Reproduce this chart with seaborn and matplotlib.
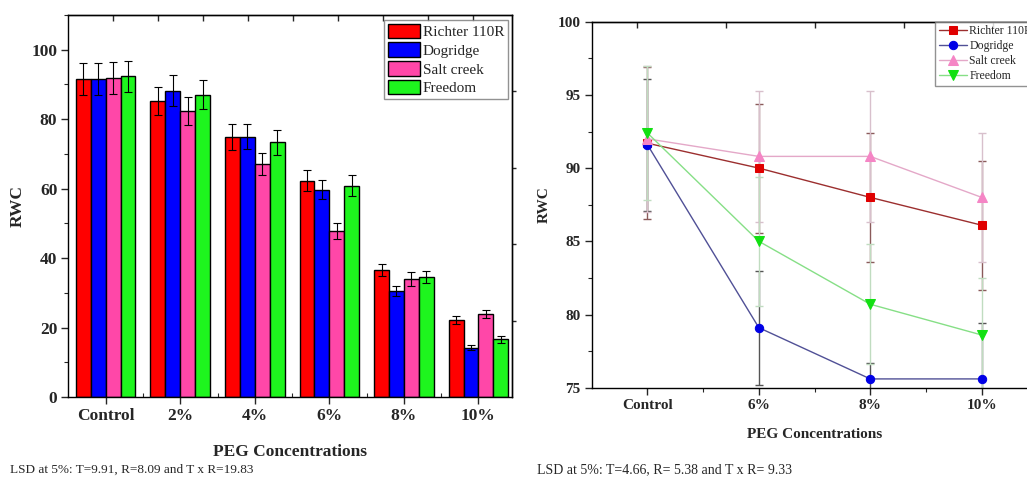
import numpy as np
import pandas as pd
import matplotlib
matplotlib.use("Agg")
import matplotlib.pyplot as plt
import seaborn as sns
from matplotlib.ticker import MultipleLocator, FixedLocator

# ---- data: bar chart (left) ----
bar_conc = ["Control", "2%", "4%", "6%", "8%", "10%"]
cultivars = ["Richter 110R", "Dogridge", "Salt creek", "Freedom"]
bar_richter = [91.6, 85.3, 74.9, 62.3, 36.6, 22.1]
bar_dogridge = [91.6, 88.2, 75.0, 59.7, 30.6, 14.2]
bar_saltcreek = [91.8, 82.4, 67.0, 47.9, 34.0, 23.9]
bar_freedom = [92.3, 87.0, 73.3, 60.9, 34.6, 16.6]
err_richter = [4.5, 4.1, 3.7, 3.0, 1.8, 1.1]
err_dogridge = [4.5, 4.4, 3.7, 2.8, 1.4, 0.7]
err_saltcreek = [4.6, 4.1, 3.2, 2.3, 1.9, 1.2]
err_freedom = [4.5, 4.2, 3.6, 3.0, 1.8, 1.1]

# ---- data: line chart (right) ----
line_conc = ["Control", "6%", "8%", "10%"]
ln_richter = [91.7, 90.0, 88.0, 86.1]
ln_dogridge = [91.6, 79.1, 75.6, 75.6]
ln_saltcreek = [92.0, 90.8, 90.8, 88.0]
ln_freedom = [92.4, 85.0, 80.7, 78.6]
lerr_richter = [5.2, 4.4, 4.4, 4.4]
lerr_dogridge = [4.5, 3.9, 1.1, 3.8]
lerr_saltcreek = [5.0, 4.5, 4.5, 4.4]
lerr_freedom = [4.6, 4.4, 4.1, 3.9]

lsd_left = "LSD at 5%: T=9.91, R=8.09 and T x R=19.83"
lsd_right = "LSD at 5%: T=4.66, R= 5.38 and T x R= 9.33"

bar_colors = ["#ff0000", "#0000ff", "#ff47a8", "#1ef51e"]
mk_colors = ["#e00000", "#0000e6", "#f585c5", "#12e012"]
ln_colors = ["#9c2f2f", "#505096", "#e4a8c8", "#86df86"]
err_colors = ["#8a5a5a", "#555555", "#d8c0cc", "#c0dcc0"]
markers = ["s", "o", "^", "v"]

sns.set_theme(style="ticks")
plt.rcParams["font.family"] = ["Liberation Serif", "DejaVu Serif"]
plt.rcParams["axes.linewidth"] = 1.0

fig = plt.figure(figsize=(10.27, 4.79), dpi=100)
W, H = 1027, 479

# =======================
# LEFT: grouped bars
# =======================
ax1 = fig.add_axes([68.4 / W, 1 - 397 / H, (512 - 68.4) / W, (397 - 15) / H])

vals = [bar_richter, bar_dogridge, bar_saltcreek, bar_freedom]
errs = [err_richter, err_dogridge, err_saltcreek, err_freedom]
df_bar = pd.DataFrame({
    "PEG": bar_conc * 4,
    "RWC": sum(vals, []),
    "Cultivar": np.repeat(cultivars, len(bar_conc)),
})
sns.barplot(data=df_bar, x="PEG", y="RWC", hue="Cultivar", hue_order=cultivars,
            order=bar_conc, palette=bar_colors, saturation=1, errorbar=None,
            edgecolor="black", linewidth=1.0, width=0.8, ax=ax1)

for cont, e in zip(ax1.containers, errs):
    xs = [b.get_x() + b.get_width() / 2 for b in cont]
    hs = [b.get_height() for b in cont]
    ax1.errorbar(xs, hs, yerr=e, fmt="none", ecolor="black",
                 elinewidth=0.8, capsize=3, capthick=0.8)

ax1.set_xlim(-0.5, 5.45)
ax1.set_ylim(0, 110)
ax1.set_yticks([0, 20, 40, 60, 80, 100])
ax1.yaxis.set_minor_locator(MultipleLocator(10))
ax1.xaxis.set_minor_locator(FixedLocator(np.arange(0.5, 5.5, 1)))
ax1.tick_params(axis="both", which="major", direction="out", length=5, width=1,
                labelsize=12.5, pad=3)
ax1.tick_params(axis="both", which="minor", direction="out", length=3, width=0.8)
ax1.tick_params(axis="x", which="minor", direction="in")
for lab in ax1.get_xticklabels() + ax1.get_yticklabels():
    lab.set_fontweight("bold")
ax1.set_xlabel("PEG Concentrations", fontsize=12.5, fontweight="bold", labelpad=14)
ax1.set_ylabel("RWC", fontsize=12.5, fontweight="bold", labelpad=4)
for s in ax1.spines.values():
    s.set_visible(True)
    s.set_color("black")

top1 = ax1.secondary_xaxis("top")
top1.set_xticks(np.arange(0.1, 5.5, 0.604))
top1.set_xticklabels([])
top1.tick_params(direction="in", length=4, width=1)
right1 = ax1.secondary_yaxis("right")
right1.set_yticks([22, 44, 66, 88])
right1.set_yticklabels([])
right1.tick_params(direction="out", length=3, width=1)

ax1.legend(loc="upper right", bbox_to_anchor=(508 / W, 1 - 20 / H),
           bbox_transform=fig.transFigure, borderaxespad=0, frameon=True,
           fancybox=False, edgecolor="#777777", fontsize=11, handlelength=2.1,
           handleheight=1.1, handletextpad=0.2, labelspacing=0.2, borderpad=0.25)
ax1.get_legend().get_frame().set_linewidth(1.0)

fig.text(10 / W, 1 - 470 / H, lsd_left, fontsize=9.5, ha="left", va="center")

# =======================
# RIGHT: lines
# =======================
ax2 = fig.add_axes([591.7 / W, 1 - 387.7 / H, 445.7 / W, (387.7 - 21.7) / H])

xpos = np.arange(len(line_conc))
lvals = [ln_richter, ln_dogridge, ln_saltcreek, ln_freedom]
lerrs = [lerr_richter, lerr_dogridge, lerr_saltcreek, lerr_freedom]

for v, e, ec in zip(lvals, lerrs, err_colors):
    ax2.errorbar(xpos, v, yerr=e, fmt="none", ecolor=ec, elinewidth=1.0,
                 capsize=3, capthick=1.0, zorder=1)

for name, v, lc, mc, m in zip(cultivars, lvals, ln_colors, mk_colors, markers):
    ms = 7 if m in ("^", "v") else 6
    sns.lineplot(x=xpos, y=v, color=lc, linewidth=1.0, marker=m, markersize=ms,
                 markerfacecolor=mc, markeredgecolor=mc, label=name, ax=ax2, zorder=3)

ax2.set_xlim(-0.5, 3.5)
ax2.set_ylim(75, 100)
ax2.set_xticks(xpos)
ax2.set_xticklabels(line_conc)
ax2.set_yticks([75, 80, 85, 90, 95, 100])
ax2.yaxis.set_minor_locator(MultipleLocator(2.5))
ax2.xaxis.set_minor_locator(FixedLocator([0.5, 1.5, 2.5]))
ax2.tick_params(axis="both", which="major", direction="out", length=5, width=1,
                labelsize=11, pad=3)
ax2.tick_params(axis="both", which="minor", direction="out", length=3, width=0.8)
for lab in ax2.get_xticklabels() + ax2.get_yticklabels():
    lab.set_fontweight("bold")
ax2.set_xlabel("PEG Concentrations", fontsize=11, fontweight="bold", labelpad=12)
ax2.set_ylabel("RWC", fontsize=11, fontweight="bold", labelpad=5)
for s in ax2.spines.values():
    s.set_visible(True)
    s.set_color("black")

top2 = ax2.secondary_xaxis("top")
top2.set_xticks(np.arange(-0.096, 3.5, 0.8))
top2.set_xticklabels([])
top2.tick_params(direction="in", length=4, width=1)

ax2.legend(loc="upper left", bbox_to_anchor=(935 / W, 1 - 21.7 / H),
           bbox_transform=fig.transFigure, borderaxespad=0, frameon=True,
           fancybox=False, edgecolor="#777777", fontsize=8.5, handlelength=2.4,
           handletextpad=0.2, labelspacing=0.25, borderpad=0.3)

fig.text(537 / W, 1 - 470 / H, lsd_right, fontsize=10, ha="left", va="center")

fig.savefig("out.png", dpi=100)
